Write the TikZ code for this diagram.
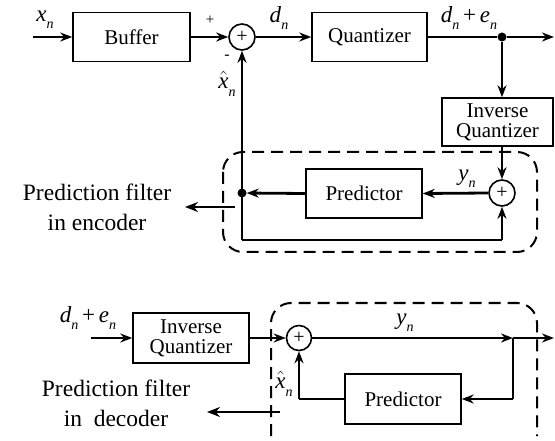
\documentclass[tikz,border=0pt]{standalone}
\usepackage{fontspec}
\setmainfont{Liberation Serif}
\usetikzlibrary{arrows.meta}
\newcommand\vsub[2]{#1\raisebox{-0.32em}{\fontsize{14}{14}\selectfont\textit{#2}}}
\newcommand\xhat{$\hat{\mbox{\textit{x}}}$}
\begin{document}
\begin{tikzpicture}[x=1pt,y=-1pt,
  blk/.style={draw,line width=1.5pt,inner sep=0pt,font=\fontsize{21}{23}\selectfont,align=center},
  sumc/.style={draw,circle,line width=1.6pt,minimum size=26pt,inner sep=0pt,font=\fontsize{20}{20}\selectfont},
  wire/.style={line width=2.8pt},
  arr/.style={wire,-{Stealth[length=12pt,width=9pt]}},
  thinw/.style={line width=2pt},
  lbl/.style={font=\fontsize{23}{25}\selectfont,inner sep=0pt},
  big/.style={font=\fontsize{23.5}{30}\selectfont,align=center,inner sep=0pt},
  dsh/.style={line width=2pt,dash pattern=on 12pt off 7pt},
  dotn/.style={circle,fill,inner sep=0pt,minimum size=9pt}]
\useasboundingbox (0,0) rectangle (555,441);
% ---------- encoder ----------
\coordinate (in1) at (33,37);
\node[blk,minimum width=117pt,minimum height=49pt] (buf) at (131.5,37) {Buffer};
\node[sumc] (s1) at (242,37) {+};
\node[blk,minimum width=115pt,minimum height=49pt] (qz) at (369.5,37) {Quantizer};
\node[dotn] (d1) at (502,37) {};
\coordinate (out1) at (554,37);
\node[blk,minimum width=111pt,minimum height=48pt] (iq1) at (497.5,122) {Inverse\\[-3pt]Quantizer};
\node[sumc] (s2) at (502,193) {+};
\node[blk,minimum width=116pt,minimum height=49pt] (pr1) at (364,193.5) {Predictor};
\node[dotn] (d2) at (242,193) {};
\coordinate (b1) at (242,240);
\coordinate (b2) at (502,240);
\coordinate (o1s) at (235,207);
\coordinate (o1e) at (185,207);

\draw[arr] (in1) -- (buf.west);
\draw[arr] (buf.east) -- (s1.west);
\draw[arr] (s1.east) -- (qz.west);
\draw[wire] (qz.east) -- (d1);
\draw[arr] (d1) -- (out1);
\draw[arr] (d1) -- (d1 |- iq1.north);
\draw[arr] (s2 |- iq1.south) -- (s2.north);
\draw[arr] (s2.west) -- (pr1.east);
\draw[arr] (pr1.west) -- (d2);
\draw[arr] (b1) -- (s1.south);
\draw[thinw] (b1) -- (b2);
\draw[arr] (b2) -- (s2.south);
\draw[wire,-{Stealth[length=13pt,width=10pt]}] (o1s) -- (o1e);
\draw[dsh,rounded corners=20pt] (223,152) rectangle (537,252);

\node[lbl] (lx) at (45,20) {\vsub{\textit{x}}{n}};
\node[font=\fontsize{15}{15}\selectfont] (lp) at (210,20) {+};
\node[font=\fontsize{16}{16}\selectfont] (lm) at (227,57) {-};
\node[lbl] (lxh) at (227,84) {\vsub{\xhat}{n}};
\node[lbl] (ld) at (279,18) {\vsub{\textit{d}}{n}};
\node[lbl] (lde) at (469,18) {\vsub{\textit{d}}{n}\,+\,\vsub{\textit{e}}{n}};
\node[lbl] (ly) at (467,179) {\vsub{\textit{y}}{n}};
\node[big] (t1) at (97,207) {Prediction filter\\in encoder};

% ---------- decoder ----------
\coordinate (in2) at (91,338);
\node[blk,minimum width=116pt,minimum height=50pt] (iq2) at (191,338) {Inverse\\[-3pt]Quantizer};
\node[sumc,minimum size=25pt] (s3) at (299,338) {+};
\coordinate (j1) at (513,338);
\coordinate (j2) at (513,399);
\coordinate (out2) at (554,338);
\node[blk,minimum width=116pt,minimum height=50pt] (pr2) at (403,399) {Predictor};
\coordinate (c2) at (299,399);
\coordinate (o2s) at (280,412);
\coordinate (o2e) at (207,412);

\draw[arr] (in2) -- (iq2.west);
\draw[arr] (iq2.east) -- (s3.west);
\draw[arr] (s3.east) -- (j1);
\draw[arr] (j1) -- (out2);
\draw[thinw] (j1) -- (j2);
\draw[arr] (j2) -- (pr2.east);
\draw[thinw] (pr2.west) -- (c2);
\draw[arr] (c2) -- (s3.south);
\draw[wire,-{Stealth[length=13pt,width=10pt]}] (o2s) -- (o2e);
\draw[dsh] (271,436) -- (271,323) arc[start angle=180,end angle=90,radius=20pt] -- (517,303) arc[start angle=90,end angle=0,radius=20pt] -- (537,436);

\node[lbl] (lde2) at (88,318) {\vsub{\textit{d}}{n}\,+\,\vsub{\textit{e}}{n}};
\node[lbl] (ly2) at (405,323) {\vsub{\textit{y}}{n}};
\node[lbl] (lxh2) at (284,384) {\vsub{\xhat}{n}};
\node[big] (t2) at (116,403) {Prediction filter\\in~~decoder};
\end{tikzpicture}
\end{document}
